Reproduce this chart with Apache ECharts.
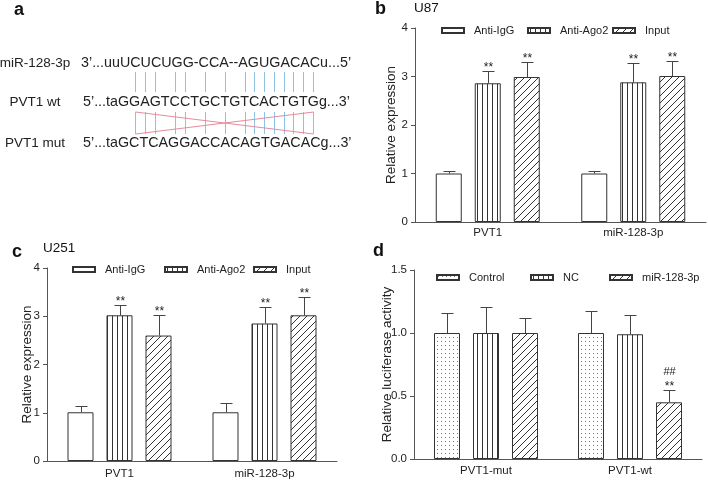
<!DOCTYPE html>
<html><head><meta charset="utf-8">
<script src="https://cdn.jsdelivr.net/npm/echarts@6/dist/echarts.min.js"></script>
<style>html,body{margin:0;padding:0;background:#fff}#c{width:708px;height:482px}</style>
</head><body><div id="c"></div><script>
const FF = '"Liberation Sans", Arial, sans-serif';
const TXT = '#222';
const AX = '#555';

// ---------- Panel a (sequence alignment) ----------
const seqLabels = ['miR-128-3p', 'PVT1 wt', 'PVT1 mut'];
const seqTexts = ['3’...uuUCUCUGG-CCA--AGUGACACu...5’', '5’...taGGAGTCCTGCTGTCACTGTGg...3’', '5’...taGCTCAGGACCACAGTGACACg...3’'];
const pairIdx = [8, 9, 10, 12, 13, 15, 17, 19, 20, 21, 22, 23, 24, 25, 26];

// ---------- Panel b (U87) ----------
const catsBC = ['PVT1', 'miR-128-3p'];
const namesBC = ['Anti-IgG', 'Anti-Ago2', 'Input'];
const u87IgG = [1.00, 1.00];
const u87IgGSD = [0.05, 0.05];
const u87Ago2 = [2.86, 2.88];
const u87Ago2SD = [0.25, 0.39];
const u87Input = [2.99, 3.01];
const u87InputSD = [0.31, 0.31];
const u87Ago2Sig = ['**', '**'];
const u87InputSig = ['**', '**'];

// ---------- Panel c (U251) ----------
const u251IgG = [1.01, 1.01];
const u251IgGSD = [0.13, 0.20];
const u251Ago2 = [3.02, 2.85];
const u251Ago2SD = [0.21, 0.34];
const u251Input = [2.60, 3.02];
const u251InputSD = [0.43, 0.37];
const u251Ago2Sig = ['**', '**'];
const u251InputSig = ['**', '**'];

// ---------- Panel d (luciferase) ----------
const catsD = ['PVT1-mut', 'PVT1-wt'];
const namesD = ['Control', 'NC', 'miR-128-3p'];
const lucControl = [1.00, 1.00];
const lucControlSD = [0.16, 0.175];
const lucNC = [1.00, 0.99];
const lucNCSD = [0.21, 0.15];
const lucMiR = [1.00, 0.45];
const lucMiRSD = [0.12, 0.10];
const lucMiRSig = ['', '**'];
const lucMiRSig2 = ['', '##'];

const yTicksBC = [0, 1, 2, 3, 4];
const yTicksD = [0, 0.5, 1.0, 1.5];

// ---------- patterns ----------
function pattern(kind) {
  const c = document.createElement('canvas');
  const ctx = c.getContext('2d');
  if (kind === 'white') { c.width = 4; c.height = 4; ctx.fillStyle = '#fff'; ctx.fillRect(0,0,4,4); }
  if (kind === 'dot') { c.width = 4; c.height = 4; ctx.fillStyle = '#fff'; ctx.fillRect(0,0,4,4); ctx.fillStyle = '#777'; ctx.fillRect(1,1,1,1); }
  if (kind === 'vline') { c.width = 5; c.height = 4; ctx.fillStyle = '#fff'; ctx.fillRect(0,0,5,4); ctx.fillStyle = '#333'; ctx.fillRect(2,0,1,4); }
  if (kind === 'hatch') {
    const s = 7; c.width = s; c.height = s; ctx.fillStyle = '#fff'; ctx.fillRect(0,0,s,s);
    ctx.strokeStyle = '#333'; ctx.lineWidth = 1;
    ctx.beginPath(); ctx.moveTo(-1, s + 1); ctx.lineTo(s + 1, -1);
    ctx.moveTo(-1, 1); ctx.lineTo(1, -1); ctx.moveTo(s - 1, s + 1); ctx.lineTo(s + 1, s - 1); ctx.stroke();
  }
  return { image: c, repeat: 'repeat' };
}
const fills = { white: pattern('white'), dot: pattern('dot'), vline: pattern('vline'), hatch: pattern('hatch') };

const BARW = 26, STEP = 39;

function barSeries(name, data, gi, fill) {
  return { type: 'bar', name, xAxisIndex: gi, yAxisIndex: gi, data, barWidth: BARW, barGap: '50%',
    itemStyle: { color: fill, borderColor: '#333', borderWidth: 1 }, silent: true, z: 2 };
}
function errSeries(gi, k, mean, sd, sig, sig2) {
  return { type: 'custom', xAxisIndex: gi, yAxisIndex: gi, z: 3, silent: true,
    data: mean.map((m, i) => [i, m, sd[i]]),
    renderItem: function (params, api) {
      const i = api.value(0), m = api.value(1), e = api.value(2);
      const p0 = api.coord([i, m]), p1 = api.coord([i, m + e]);
      const x = Math.round(p0[0] + (k - 1) * STEP) + 0.5;
      const yc = Math.round(p1[1]) + 0.5;
      const ch = [
        { type: 'line', shape: { x1: x, y1: p0[1], x2: x, y2: yc }, style: { stroke: '#444', lineWidth: 1 } },
        { type: 'line', shape: { x1: x - 6, y1: yc, x2: x + 6, y2: yc }, style: { stroke: '#444', lineWidth: 1 } }
      ];
      if (sig && sig[i]) ch.push({ type: 'text', x: x, y: yc + 2, style: { text: sig[i], fill: TXT, font: '12px ' + FF, align: 'center', verticalAlign: 'bottom', textAlign: 'center', textVerticalAlign: 'bottom' } });
      if (sig2 && sig2[i]) ch.push({ type: 'text', x: x, y: yc - 13, style: { text: sig2[i], fill: TXT, font: '11px ' + FF, align: 'center', verticalAlign: 'bottom', textAlign: 'center', textVerticalAlign: 'bottom' } });
      return { type: 'group', children: ch };
    } };
}

const grids = [
  { left: 415, top: 28, width: 291, height: 194 },
  { left: 47, top: 268, width: 290, height: 193 },
  { left: 414, top: 270, width: 288, height: 189 }
];
function xAxis(gi, cats, margin) {
  return { type: 'category', gridIndex: gi, data: cats,
    axisLine: { lineStyle: { color: AX, width: 1 } },
    axisTick: { alignWithLabel: true, length: 4, lineStyle: { color: AX } },
    axisLabel: { color: TXT, fontSize: 11.5, fontFamily: FF, margin } };
}
function yAxis(gi, ticks, name, gap, fmt) {
  return { type: 'value', gridIndex: gi, min: ticks[0], max: ticks[ticks.length - 1], interval: ticks[1] - ticks[0],
    name, nameLocation: 'middle', nameGap: gap, nameMoveOverlap: false,
    nameTextStyle: { color: TXT, fontSize: 13.5, fontFamily: FF },
    axisLine: { show: true, lineStyle: { color: AX, width: 1 } },
    axisTick: { show: true, length: 4, lineStyle: { color: AX } },
    splitLine: { show: false },
    axisLabel: { color: TXT, fontSize: 11.5, fontFamily: FF, margin: 7, formatter: fmt } };
}

function legendItem(name, left, cy) {
  return { left, top: cy - 6, padding: 0, itemGap: 0, itemWidth: 22, itemHeight: 5, icon: 'rect', selectedMode: false,
    data: [{ name }], textStyle: { color: TXT, fontSize: 11, fontFamily: FF, padding: [0, 0, 0, 5] } };
}

// ---------- panel a graphics ----------
const mctx = document.createElement('canvas').getContext('2d');
const SEQF = 14.3;
mctx.font = SEQF + 'px "Liberation Sans"';
const seqX = [81, 83, 83];
const rowY = [63, 102, 143];
const g = [];
seqLabels.forEach((t, r) => g.push({ type: 'text', x: 35, y: rowY[r], style: { text: t, fill: TXT, font: '13.5px ' + FF, align: 'center', verticalAlign: 'middle', textAlign: 'center', textVerticalAlign: 'middle' } }));
seqTexts.forEach((t, r) => g.push({ type: 'text', x: seqX[r], y: rowY[r], style: { text: t, fill: TXT, font: SEQF + 'px ' + FF, align: 'left', verticalAlign: 'middle', textAlign: 'left', textVerticalAlign: 'middle' } }));
const wt = seqTexts[1];
const px = pairIdx.map(i => Math.round(seqX[1] + mctx.measureText(wt.slice(0, i)).width + mctx.measureText(wt[i]).width / 2) + 0.5);
const l1 = [72, 92], l2 = [112, 134];
px.forEach(x => {
  g.push({ type: 'line', shape: { x1: x, y1: l1[0], x2: x, y2: l1[1] }, style: { stroke: '#8fc3e3', lineWidth: 1 } });
  g.push({ type: 'line', shape: { x1: x, y1: l2[0], x2: x, y2: l2[1] }, style: { stroke: '#8fc3e3', lineWidth: 1 } });
});
const xa = px[0], xb = px[px.length - 1];
g.push({ type: 'line', shape: { x1: xa, y1: l2[0], x2: xb, y2: l2[1] }, style: { stroke: '#e88a9c', lineWidth: 1 } });
g.push({ type: 'line', shape: { x1: xb, y1: l2[0], x2: xa, y2: l2[1] }, style: { stroke: '#e88a9c', lineWidth: 1 } });

function lbl(t, x, y, size, bold) {
  return { type: 'text', x, y, style: { text: t, fill: '#111', font: (bold ? 'bold ' : '') + size + 'px ' + FF, align: 'left', verticalAlign: 'middle', textAlign: 'left', textVerticalAlign: 'middle' } };
}
g.push(lbl('a', 14, 10, 18, true), lbl('b', 375, 9, 18, true), lbl('c', 12, 252, 18, true), lbl('d', 373, 251, 18, true));
g.push(lbl('U87', 414, 8, 13.5, false), lbl('U251', 43, 248, 13.5, false));

const option = {
  animation: false,
  backgroundColor: '#fff',
  grid: grids,
  xAxis: [xAxis(0, catsBC, 5), xAxis(1, catsBC, 7), xAxis(2, catsD, 6)],
  yAxis: [yAxis(0, yTicksBC, 'Relative expression', 17), yAxis(1, yTicksBC, 'Relative expression', 12.5),
          yAxis(2, yTicksD, 'Relative luciferase activity', 20, v => v.toFixed(1))],
  legend: [
    legendItem('Anti-IgG', 441, 31), legendItem('Anti-Ago2', 527, 31), legendItem('Input', 612, 31),
    legendItem('Anti-IgG', 72, 270), legendItem('Anti-Ago2', 164, 270), legendItem('Input', 253, 270),
    legendItem('Control', 436, 278), legendItem('NC', 530, 278), legendItem('miR-128-3p', 609, 278)
  ],
  series: [
    barSeries(namesBC[0], u87IgG, 0, fills.white), barSeries(namesBC[1], u87Ago2, 0, fills.vline), barSeries(namesBC[2], u87Input, 0, fills.hatch),
    errSeries(0, 0, u87IgG, u87IgGSD), errSeries(0, 1, u87Ago2, u87Ago2SD, u87Ago2Sig), errSeries(0, 2, u87Input, u87InputSD, u87InputSig),
    barSeries(namesBC[0], u251IgG, 1, fills.white), barSeries(namesBC[1], u251Ago2, 1, fills.vline), barSeries(namesBC[2], u251Input, 1, fills.hatch),
    errSeries(1, 0, u251IgG, u251IgGSD), errSeries(1, 1, u251Ago2, u251Ago2SD, u251Ago2Sig), errSeries(1, 2, u251Input, u251InputSD, u251InputSig),
    barSeries(namesD[0], lucControl, 2, fills.dot), barSeries(namesD[1], lucNC, 2, fills.vline), barSeries(namesD[2], lucMiR, 2, fills.hatch),
    errSeries(2, 0, lucControl, lucControlSD), errSeries(2, 1, lucNC, lucNCSD), errSeries(2, 2, lucMiR, lucMiRSD, lucMiRSig, lucMiRSig2)
  ],
  graphic: g
};
const chart = echarts.init(document.getElementById('c'), null, { renderer: 'canvas' });
chart.setOption(option);
</script></body></html>
